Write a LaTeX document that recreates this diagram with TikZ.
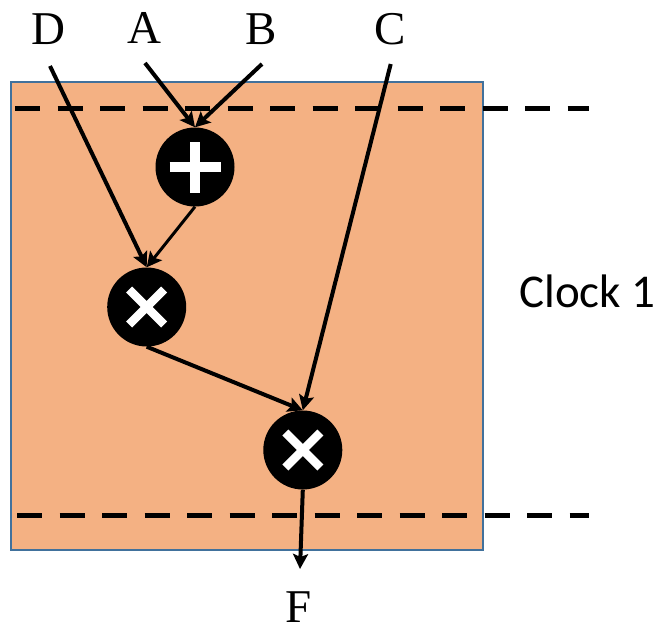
\documentclass[tikz,border=0pt]{standalone}
\usepackage{fontspec}
\setmainfont{Liberation Serif}
\newfontfamily\clockfont{Carlito}
\usetikzlibrary{arrows.meta}
\definecolor{stagefill}{HTML}{F4B183}
\definecolor{stageedge}{HTML}{41719C}
\tikzset{
  op/.style     = {circle, fill=black, minimum size=79pt, inner sep=0pt},
  addop/.style  = {op, path picture={
                     \draw[white, line width=10pt]
                       ([xshift=-25.5pt]path picture bounding box.center) --
                       ([xshift=25.5pt]path picture bounding box.center)
                       ([yshift=-25.5pt]path picture bounding box.center) --
                       ([yshift=25.5pt]path picture bounding box.center);}},
  mulop/.style  = {op, path picture={
                     \draw[white, line width=8.5pt]
                       ([shift={(-17.5pt,-17.5pt)}]path picture bounding box.center) --
                       ([shift={(17.5pt,17.5pt)}]path picture bounding box.center)
                       ([shift={(-17.5pt,17.5pt)}]path picture bounding box.center) --
                       ([shift={(17.5pt,-17.5pt)}]path picture bounding box.center);}},
  sig/.style    = {-{Stealth[length=15pt,width=15pt,inset=3pt]}, line width=4pt},
  thinsig/.style= {sig, line width=3pt},
  clk/.style    = {line width=5pt, dash pattern=on 25pt off 17.5pt},
  lbl/.style    = {font=\fontsize{47}{50}\selectfont, inner sep=0pt, anchor=base},
  stage/.style  = {draw=stageedge, line width=2pt, fill=stagefill},
}
\begin{document}
\begin{tikzpicture}[x=1pt, y=-1pt]
  \useasboundingbox (0,0) rectangle (661,627);
  % pipeline stage
  \draw[stage] (11,82) rectangle (483,550);
  \draw[clk] (15,108) -- (589,108);
  \draw[clk] (17,515) -- (589,515);
  \node[lbl, anchor=base west, font=\clockfont\fontsize{47}{50}\selectfont] (clk1) at (519,307) {Clock 1};
  % operators
  \node[addop] (add)  at (195,167) {};
  \node[mulop] (mul1) at (146.7,307) {};
  \node[mulop] (mul2) at (302.8,450) {};
  % inputs and output
  \node[lbl] (D) at (48.5,44) {D};
  \node[lbl] (A) at (144,43) {A};
  \node[lbl] (B) at (261,44) {B};
  \node[lbl] (C) at (390,44) {C};
  \node[lbl] (F) at (299,622) {F};
  \coordinate (d0) at (50,66);
  \coordinate (a0) at (145,63);
  \coordinate (b0) at (262,64);
  \coordinate (c0) at (390.7,64);
  \coordinate (f0) at (300,569);
  \draw[sig] (a0) -- (add.north);
  \draw[sig] (b0) -- (add.north);
  \draw[sig] (d0) -- (mul1.north);
  \draw[thinsig] (add.south) -- (mul1.north);
  \draw[sig] (mul1.south) -- (mul2.north);
  \draw[sig] (c0) -- (mul2.north);
  \draw[sig] (mul2.south) -- (f0);
\end{tikzpicture}
\end{document}
